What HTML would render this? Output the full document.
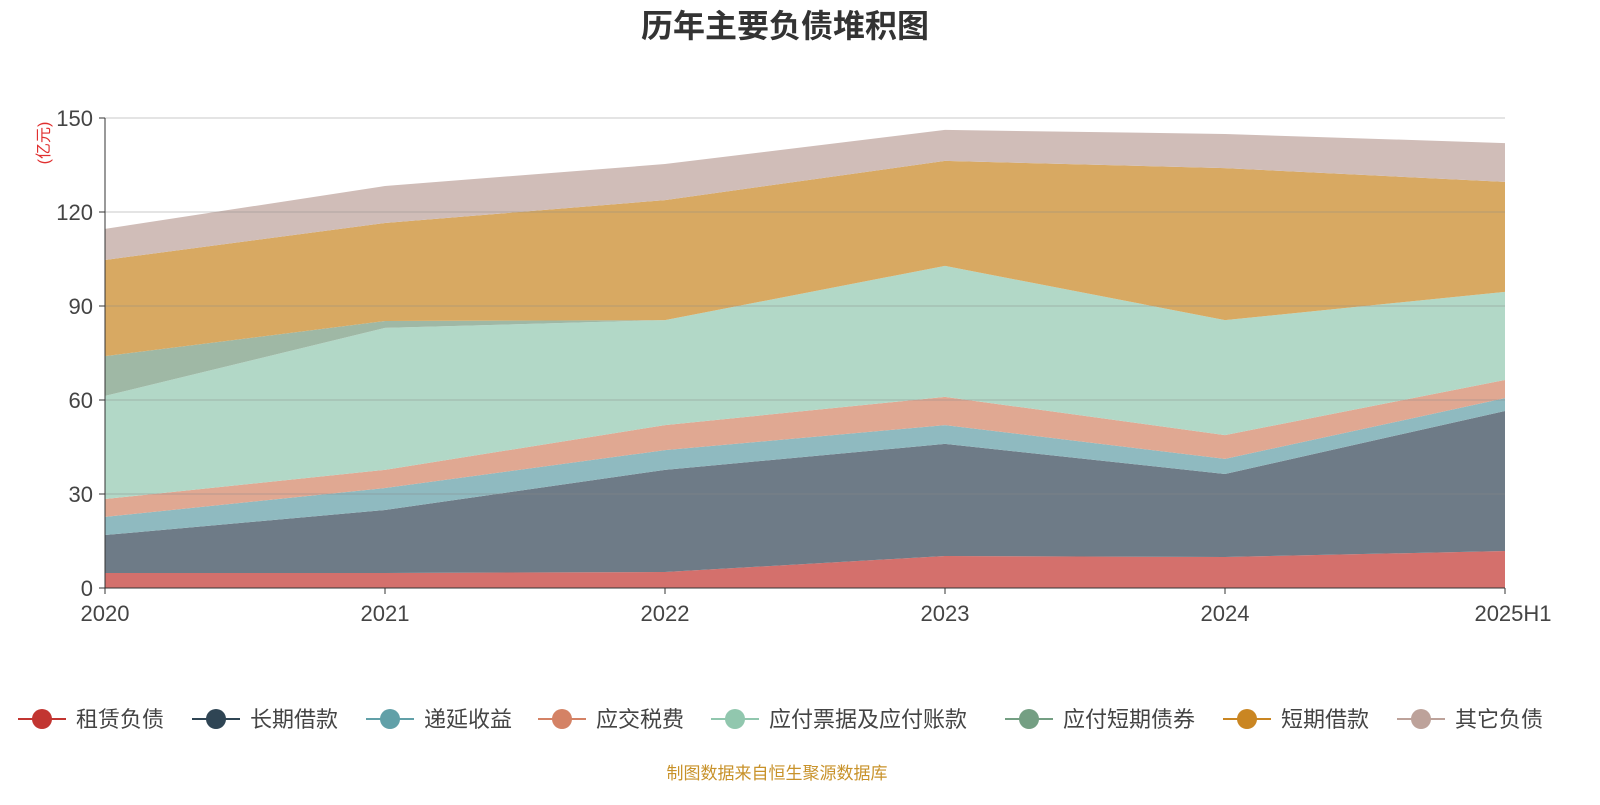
<!DOCTYPE html>
<html><head><meta charset="utf-8"><style>
body{margin:0;width:1600px;height:800px;background:#fff;font-family:"Liberation Sans","Noto Sans CJK SC",sans-serif;overflow:hidden}
</style></head><body>
<svg id="c" width="1600" height="800" font-family="Liberation Sans, Noto Sans CJK SC, sans-serif">
<text x="785" y="37" text-anchor="middle" font-size="32" font-weight="bold" fill="#333">历年主要负债堆积图</text>
<text transform="translate(49,143) rotate(-90)" text-anchor="middle" font-size="16" fill="#e03030">(亿元)</text>
<g id="areas"></g><g id="grid"></g><g id="axes"></g><g id="legend"></g>
<text x="777" y="779" text-anchor="middle" font-size="17" fill="#c8922a">制图数据来自恒生聚源数据库</text>
</svg>
<script>
const categories=["2020","2021","2022","2023","2024","2025H1"];
const seriesNames=["租赁负债","长期借款","递延收益","应交税费","应付票据及应付账款","应付短期债券","短期借款","其它负债"];
const lease=[4.8,4.8,5.1,10.2,9.9,11.8];
const longLoan=[12.1,20.1,32.6,35.8,26.5,44.7];
const deferred=[5.8,7.0,6.3,6.0,4.8,4.1];
const tax=[5.7,5.8,8.0,9.0,7.6,5.8];
const payables=[32.9,45.3,33.5,41.8,36.7,28.1];
const shortBonds=[12.7,2.2,0,0,0,0];
const shortLoan=[30.7,31.3,38.3,33.5,48.5,35.1];
const other=[9.9,11.8,11.5,9.9,10.9,12.4];
const yTicks=[0,30,60,90,120,150];
const series=[lease,longLoan,deferred,tax,payables,shortBonds,shortLoan,other];
const fills=["#d4706c","#6e7b87","#8fbac0","#e0a892","#b2d8c7","#9fb8a5","#d8a962","#d0bdb8"];
const legendColors=["#c23531","#2f4554","#61a0a8","#d48265","#91c7ae","#749f83","#ca8622","#bda29a"];
const NS="http://www.w3.org/2000/svg";
const x0=105,x1=1505,y0=588,y1=118,yMax=150;
const X=i=>x0+i*(x1-x0)/(categories.length-1);
const Y=v=>y0-v/yMax*(y0-y1);
function mk(t,a,p){const e=document.createElementNS(NS,t);for(const k in a)e.setAttribute(k,a[k]);p.appendChild(e);return e;}
let base=categories.map(()=>0);
const ga=document.getElementById('areas');
series.forEach((s,k)=>{
 const top=base.map((b,i)=>b+s[i]);
 let d="M"+top.map((v,i)=>X(i)+","+Y(v)).join("L");
 for(let i=categories.length-1;i>=0;i--)d+="L"+X(i)+","+Y(base[i]);
 const p=mk('path',{d:d+"Z",fill:fills[k],stroke:"none"},ga);
 
 
 base=top;
});
const gg=document.getElementById('grid'),gx=document.getElementById('axes');
yTicks.forEach(t=>{
 if(t>0){const l=mk('line',{x1:x0,x2:x1,y1:Y(t),y2:Y(t),stroke:"#888","stroke-opacity":0.45,"stroke-width":1},gg);
 }
 mk('line',{x1:x0-6,x2:x0,y1:Y(t),y2:Y(t),stroke:"#333"},gx);
 const tx=mk('text',{x:x0-12,y:Y(t)+8,"text-anchor":"end","font-size":22,fill:"#444"},gx);tx.textContent=t;
 
});
mk('line',{x1:x0,x2:x0,y1:y1,y2:y0,stroke:"#333"},gx);
mk('line',{x1:x0,x2:x1,y1:y0,y2:y0,stroke:"#333"},gx);
categories.forEach((c,i)=>{
 mk('line',{x1:X(i),x2:X(i),y1:y0,y2:y0+6,stroke:"#333"},gx);
 const tx=mk('text',{x:X(i),y:y0+33,"text-anchor":"middle","font-size":22,fill:"#444"},gx);
 if(i==categories.length-1)tx.setAttribute('x',X(i)+8);
 tx.textContent=c;
 
});
const gl=document.getElementById('legend');
const lx=[18,192,366,538,711,1005,1223,1397];
seriesNames.forEach((n,k)=>{
 const g=mk('g',{},gl);
 
 
 mk('line',{x1:lx[k],x2:lx[k]+48,y1:719,y2:719,stroke:legendColors[k],"stroke-width":2},g);
 mk('circle',{cx:lx[k]+24,cy:719,r:10,fill:legendColors[k]},g);
 const t=mk('text',{x:lx[k]+58,y:727,"font-size":22,fill:"#444"},g);t.textContent=n;
});
</script>
</body></html>
